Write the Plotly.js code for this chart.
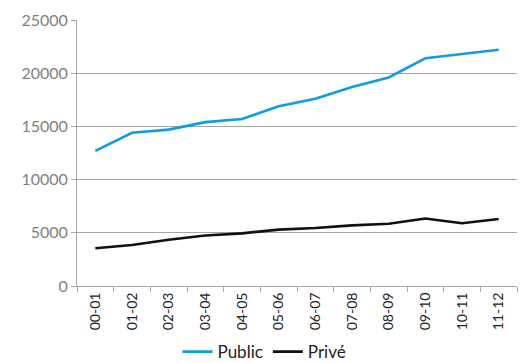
<!DOCTYPE html>
<html>
<head>
<meta charset="utf-8">
<script src="https://cdn.plot.ly/plotly-3.0.1.min.js"></script>
<style>html,body{margin:0;padding:0;background:#fff;}#chart{width:529px;height:363px;}</style>
</head>
<body>
<div id="chart"></div>
<script>
const categories = ["00-01","01-02","02-03","03-04","04-05","05-06","06-07","07-08","08-09","09-10","10-11","11-12"];
const publicValues = [12700,14400,14700,15400,15700,16900,17600,18700,19600,21400,21800,22200];
const priveValues = [3550,3850,4350,4750,4950,5300,5450,5700,5850,6350,5900,6300];
const yTicks = [0,5000,10000,15000,20000,25000];

const traces = [
  {x: categories, y: publicValues, name: "Public", type: "scatter", mode: "lines",
   line: {color: "#0f9de0", width: 2.6}},
  {x: categories, y: priveValues, name: "Privé", type: "scatter", mode: "lines",
   line: {color: "#111111", width: 2.6}}
];

const layout = {
  width: 529, height: 363,
  margin: {l: 77, r: 12, t: 20, b: 77},
  paper_bgcolor: "#fff", plot_bgcolor: "#fff",
  font: {family: "Lato, 'Open Sans', sans-serif", color: "#404040"},
  showlegend: true,
  legend: {orientation: "h", x: 0.5, xanchor: "center", xref: "container",
           y: 0.03, yanchor: "middle", yref: "container",
           font: {size: 17, color: "#222"}, itemwidth: 30, tracegroupgap: 0},
  xaxis: {type: "category", range: [-0.5, categories.length - 0.5], automargin: false,
          tickangle: -90, tickson: "boundaries", ticks: "outside",
          ticklen: 5, tickcolor: "#a6a6a6", showline: true, linecolor: "#a6a6a6", linewidth: 1,
          showgrid: false, zeroline: false, tickfont: {size: 14, color: "#222"}},
  yaxis: {range: [0, 25000], automargin: false, tickvals: yTicks, ticktext: yTicks.map(String),
          ticks: "outside", ticklen: 5, tickcolor: "#a6a6a6",
          showline: true, linecolor: "#a6a6a6", linewidth: 1,
          showgrid: true, gridcolor: "#a6a6a6", gridwidth: 1, zeroline: false,
          tickfont: {size: 16, color: "#808080"}}
};

Plotly.newPlot("chart", traces, layout, {displayModeBar: false, staticPlot: true});
</script>
</body>
</html>
